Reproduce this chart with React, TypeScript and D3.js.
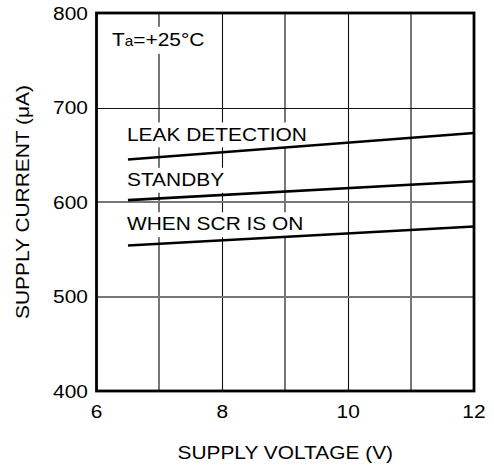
import React, { useEffect, useRef } from "react";
import * as d3 from "d3";

const xTicks = [6, 8, 10, 12];
const yTicks = [400, 500, 600, 700, 800];
const xGrid = [7, 8, 9, 10, 11];
const xGridSoft = [true, false, true, false, true];
const yGrid = [500, 600, 700];
const yGridSoft = [true, true, false];
const xTitle = "SUPPLY VOLTAGE (V)";
const yTitle = "SUPPLY CURRENT (\u03bcA)";

const seriesNames = ["LEAK DETECTION", "STANDBY", "WHEN SCR IS ON"];
const seriesVoltage = [6.5, 12];
const leakValues = [645, 673];
const standbyValues = [602, 622];
const scrValues = [554, 574];
const labelValues = [665, 617, 570];

const W = 494;
const H = 466;
const FONT = "'Liberation Sans', Arial, Helvetica, sans-serif";
const FS = 19;
const SX = 1.1;

export default function App() {
  const ref = useRef<SVGSVGElement>(null);
  useEffect(() => {
    const svg = d3.select(ref.current);
    svg.selectAll("*").remove();
    const left = 96.5, right = 474, top = 13, bottom = 391;
    const x = d3.scaleLinear().domain([6, 12]).range([left, right]);
    const y = d3.scaleLinear().domain([400, 800]).range([bottom, top]);

    svg.append("rect").attr("width", W).attr("height", H).attr("fill", "#fff");

    const grid = svg.append("g");
    xGrid.forEach((v, i) => {
      const soft = xGridSoft[i];
      const px = soft ? Math.round(x(v)) : Math.round(x(v)) + 0.5;
      grid.append("line").attr("x1", px).attr("x2", px)
        .attr("y1", top).attr("y2", bottom)
        .attr("stroke", soft ? "#777" : "#111").attr("stroke-width", soft ? 2 : 1.1);
    });
    yGrid.forEach((v, i) => {
      const soft = yGridSoft[i];
      const py = soft ? Math.round(y(v)) : Math.round(y(v)) + 0.5;
      grid.append("line").attr("y1", py).attr("y2", py)
        .attr("x1", left).attr("x2", right)
        .attr("stroke", soft ? "#777" : "#111").attr("stroke-width", soft ? 2 : 1.1);
    });

    const addText = (g: any, tx: number, ty: number, txt: string, anchor: string, rot = 0, bg = false, fs = FS) => {
      const gg = g.append("g").attr("transform", `translate(${tx},${ty}) rotate(${rot}) scale(${SX},1)`);
      const t = gg.append("text").attr("font-family", FONT).attr("font-size", fs)
        .attr("text-anchor", anchor).attr("fill", "#000").text(txt);
      if (bg) {
        const b = (t.node() as SVGTextElement).getBBox();
        gg.insert("rect", "text").attr("x", b.x - 3).attr("y", b.y - 1).attr("width", b.width + 6)
          .attr("height", b.height + 4).attr("fill", "#fff");
      }
      return t;
    };

    const labels = svg.append("g");
    seriesNames.forEach((name, i) => {
      addText(labels, x(6.5) - 1, y(labelValues[i]), name, "start", 0, true);
    });

    const ta = svg.append("g").attr("transform", `translate(112,46) scale(${SX},1)`);
    const taText = ta.append("text").attr("font-family", FONT).attr("font-size", FS).attr("fill", "#000");
    taText.append("tspan").text("T");
    taText.append("tspan").attr("font-size", 14).text("a");
    taText.append("tspan").text("=+25\u00b0C");
    const tb = (taText.node() as SVGTextElement).getBBox();
    ta.insert("rect", "text").attr("x", tb.x - 3).attr("y", tb.y - 2).attr("width", tb.width + 6)
      .attr("height", tb.height + 6).attr("fill", "#fff");

    const line = d3.line<number>().x((_, i) => x(seriesVoltage[i])).y((d) => y(d));
    [leakValues, standbyValues, scrValues].forEach((vals) => {
      svg.append("path").attr("d", line(vals)).attr("fill", "none").attr("stroke", "#000")
        .attr("stroke-width", 2.6);
    });

    svg.append("rect").attr("x", left).attr("y", top).attr("width", right - left).attr("height", bottom - top)
      .attr("fill", "none").attr("stroke", "#000").attr("stroke-width", 2.8);

    const ax = svg.append("g");
    yTicks.forEach((v) => {
      addText(ax, 88, y(v) + FS * 0.36, String(v), "end");
    });
    xTicks.forEach((v) => {
      addText(ax, x(v), 418, String(v), "middle");
    });
    addText(ax, (left + right) / 2, 459, xTitle, "middle");
    addText(ax, 29, (top + bottom) / 2, yTitle, "middle", -90);
  }, []);
  return (
    <svg ref={ref} width={W} height={H} style={{ position: "absolute", left: 0, top: 0 }} />
  );
}
